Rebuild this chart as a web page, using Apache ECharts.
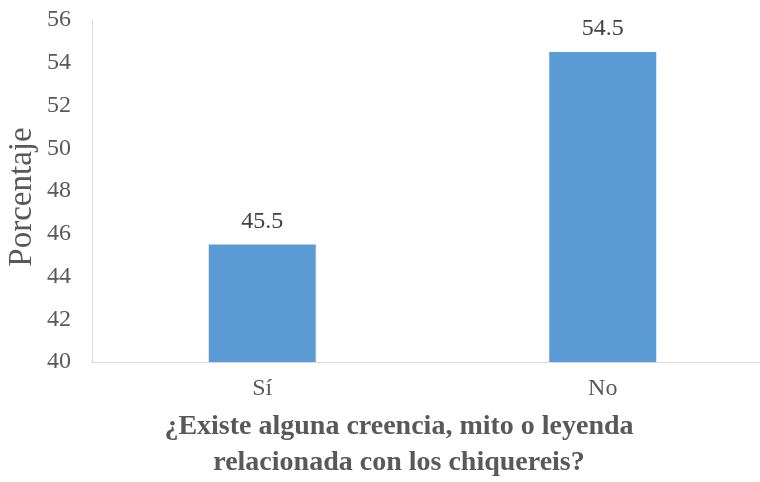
<!DOCTYPE html>
<html><head><meta charset="utf-8">
<script src="https://cdn.jsdelivr.net/npm/echarts@6/dist/echarts.min.js"></script>
<style>html,body{margin:0;padding:0;background:#fff;overflow:hidden}#c{width:800px;height:482px}</style>
</head><body><div id="c"></div>
<script>
const categories = ['Sí', 'No'];
const values = [45.5, 54.5];
const yTicks = { min: 40, max: 56, interval: 2 };
const yName = 'Porcentaje';
const xTitle = '¿Existe alguna creencia, mito o leyenda\nrelacionada con los chiquereis?';

const chart = echarts.init(document.getElementById('c'));
chart.setOption({
  animation: false,
  grid: { left: 92, top: 20, width: 681, height: 342, outerBoundsMode: 'none', containLabel: false },
  xAxis: {
    type: 'category', data: categories,
    axisLine: { lineStyle: { color: '#d9d9d9', width: 1 } },
    axisTick: { show: false },
    axisLabel: { color: '#595959', fontFamily: 'Liberation Serif', fontSize: 24, margin: 15 }
  },
  yAxis: {
    type: 'value', min: yTicks.min, max: yTicks.max, interval: yTicks.interval,
    axisLine: { show: true, lineStyle: { color: '#d9d9d9', width: 1 } },
    axisTick: { show: false },
    splitLine: { show: false },
    axisLabel: { color: '#595959', fontFamily: 'Liberation Serif', fontSize: 24, margin: 21 }
  },
  series: [{
    type: 'bar', data: values, barWidth: 107,
    itemStyle: { color: '#5b9bd5' },
    label: { show: true, position: 'top', distance: 11, color: '#404040', fontFamily: 'Liberation Serif', fontSize: 24 }
  }],
  graphic: [{
    type: 'text', x: 22, y: 197, rotation: Math.PI / 2,
    style: { text: yName, fill: '#595959', font: '33px "Liberation Serif"', textAlign: 'center', textVerticalAlign: 'middle' }
  }, {
    type: 'text', x: 399, y: 409,
    style: { text: xTitle, fill: '#595959', font: 'bold 28px "Liberation Serif"', textAlign: 'center', textVerticalAlign: 'top', lineHeight: 36 }
  }]
});
</script></body></html>
